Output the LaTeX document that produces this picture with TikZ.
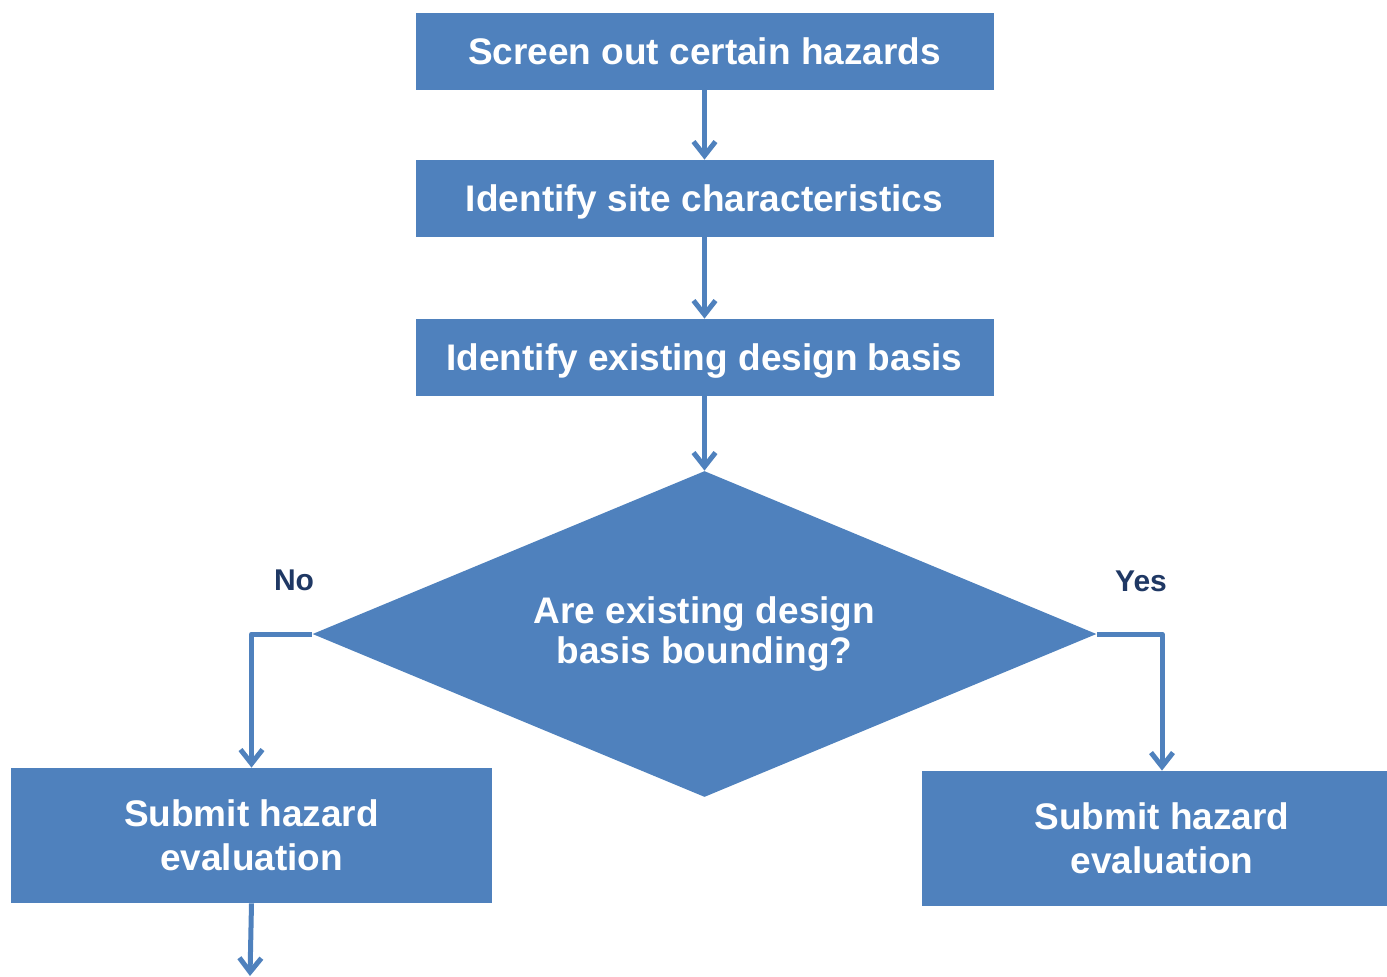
\documentclass[tikz,border=0pt]{standalone}
\usepackage{fontspec}
\setmainfont{Liberation Sans}
\usetikzlibrary{shapes.geometric,arrows.meta}
\definecolor{boxblue}{HTML}{4F81BD}
\definecolor{labelnavy}{HTML}{1F3864}

\begin{document}
\begin{tikzpicture}[x=0.5pt,y=-0.5pt,
    box/.style = {fill=boxblue, text=white, align=center, inner sep=0pt,
      font=\bfseries\fontsize{18.5}{22}\selectfont},
    step box/.style = {box, minimum width=289pt, minimum height=38.5pt,
      text height=13.25pt, text depth=0pt},
    flow/.style = {draw=boxblue, line width=2.5pt, line join=round,
      -{Straight Barb[length=7pt,width=11pt]}},
    ans/.style = {text=labelnavy, font=\bfseries\fontsize{15}{18}\selectfont}]
      \useasboundingbox (0,0) rectangle (1387,976);
      \node[step box] (1) at (704.5,51.5) {Screen out certain hazards};
      \node[step box] (2) at (704.5,198.5) {Identify site characteristics};
      \node[step box] (3) at (704.5,357.5) {Identify existing design basis};
      \node[box, diamond, aspect=2.4, minimum width=392pt, minimum height=163pt,
        font=\bfseries\fontsize{18.5}{20}\selectfont] (4) at (704.5,634) {Are existing design\\basis bounding?};
      \node[box, minimum width=240.5pt, minimum height=67.5pt] (5) at (251.5,835.5) {Submit hazard\\evaluation};
      \node[box, minimum width=240.5pt, minimum height=67.5pt] (6) at (1162,838.5) {Submit hazard\\evaluation};
      \node[ans] (no) at (294,580) {No};
      \node[ans] (yes) at (1141,581) {Yes};
      \coordinate (end) at (250,976);

      \draw[flow] (1) -- (2);
      \draw[flow] (2) -- (3);
      \draw[flow] (3) -- (4);
      \draw[flow] (4.west) -| (5.north);
      \draw[flow] (4.east) -| (6.north);
      \draw[flow] (5.south) -- (end);
    \end{tikzpicture}
\end{document}
